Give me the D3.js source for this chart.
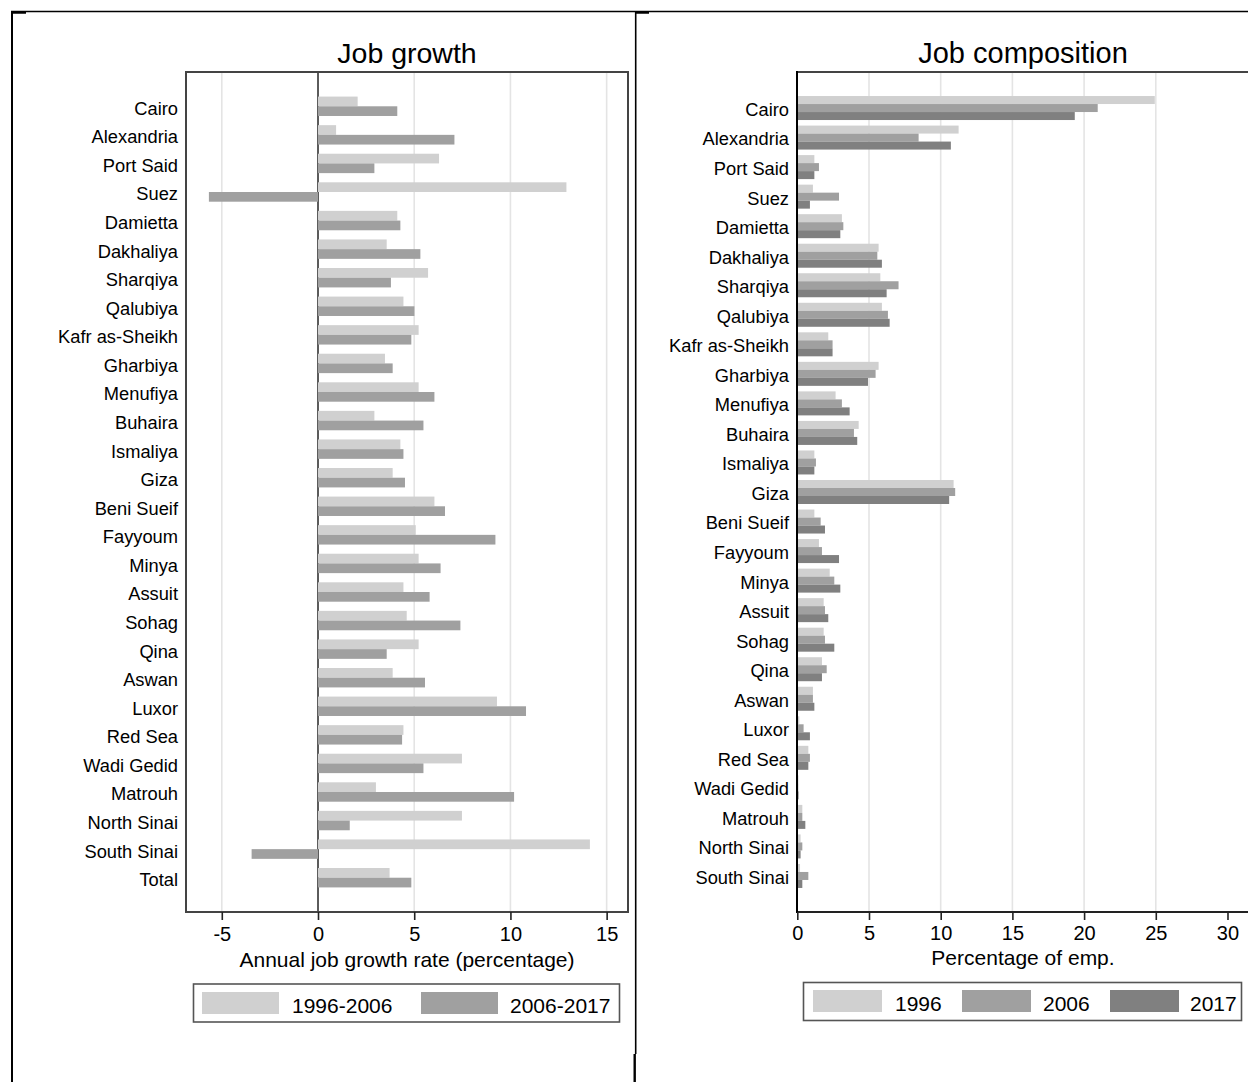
<!DOCTYPE html>
<html>
<head>
<meta charset="utf-8">
<script src="https://cdn.jsdelivr.net/npm/d3@7/dist/d3.min.js"></script>
<style>
  html, body { margin: 0; padding: 0; background: #fff; }
  svg { display: block; font-family: "Liberation Sans", Arial, Helvetica, sans-serif; }
</style>
</head>
<body>
<svg id="chart" width="1248" height="1082"></svg>
<script>
// Governorates, top to bottom
const governorates = ["Cairo","Alexandria","Port Said","Suez","Damietta","Dakhaliya","Sharqiya",
  "Qalubiya","Kafr as-Sheikh","Gharbiya","Menufiya","Buhaira","Ismaliya","Giza","Beni Sueif",
  "Fayyoum","Minya","Assuit","Sohag","Qina","Aswan","Luxor","Red Sea","Wadi Gedid","Matrouh",
  "North Sinai","South Sinai"];
const growthRows = governorates.concat(["Total"]);

// Annual job growth rate (%), by period
const growth1996_2006 = [2.06,0.94,6.29,12.91,4.12,3.57,5.72,4.44,5.23,3.48,5.23,2.93,4.28,3.88,
  6.05,5.08,5.23,4.44,4.61,5.23,3.88,9.30,4.44,7.48,3.01,7.48,14.13,3.72];
const growth2006_2017 = [4.12,7.09,2.93,-5.67,4.28,5.32,3.79,5.01,4.85,3.88,6.05,5.48,4.44,4.52,
  6.60,9.22,6.37,5.80,7.40,3.57,5.56,10.81,4.37,5.48,10.19,1.65,-3.45,4.85];

// Share of total employment (%), by year
const share1996 = [24.93,11.25,1.19,1.09,3.11,5.67,5.79,5.90,2.16,5.67,2.67,4.28,1.19,10.90,1.19,
  1.51,2.26,1.84,1.84,1.72,1.09,0.14,0.77,0.08,0.35,0.23,0.19];
const share2006 = [20.95,8.46,1.51,2.91,3.21,5.58,7.06,6.32,2.46,5.46,3.11,3.95,1.30,11.01,1.63,
  1.72,2.58,1.93,1.93,2.05,1.09,0.44,0.88,0.07,0.35,0.35,0.77];
const share2017 = [19.35,10.71,1.19,0.88,3.00,5.90,6.23,6.44,2.46,4.93,3.65,4.18,1.19,10.59,1.93,
  2.91,3.00,2.16,2.58,1.72,1.19,0.88,0.77,0.09,0.56,0.23,0.35];

const growthTicks = [-5, 0, 5, 10, 15];
const shareTicks = [0, 5, 10, 15, 20, 25, 30];
const growthLegend = ["1996-2006", "2006-2017"];
const shareLegend = ["1996", "2006", "2017"];

const cLight = "#d0d0d0", cMid = "#a0a0a0", cDark = "#808080";
const gridColor = "#e4e4e4";
const tickFmt = d => String(d); // plain hyphen for negatives

const svg = d3.select("#chart");
svg.append("rect").attr("width", 1248).attr("height", 1082).attr("fill", "#fff");

// Outer frame around the two panels
const frame = svg.append("g").attr("fill", "none").attr("stroke", "#000");
frame.append("line").attr("x1", 11).attr("x2", 1248).attr("y1", 11.5).attr("y2", 11.5).attr("stroke-width", 1.6);
frame.append("line").attr("x1", 12).attr("x2", 12).attr("y1", 11).attr("y2", 1082).attr("stroke-width", 2);
frame.append("line").attr("x1", 635.7).attr("x2", 635.7).attr("y1", 11).attr("y2", 1054).attr("stroke-width", 1.6);
frame.append("line").attr("x1", 634.7).attr("x2", 634.7).attr("y1", 1054).attr("y2", 1082).attr("stroke-width", 2.4);
frame.append("line").attr("x1", 12).attr("x2", 26).attr("y1", 12.5).attr("y2", 12.5).attr("stroke-width", 2.5);
frame.append("line").attr("x1", 636).attr("x2", 649).attr("y1", 12.5).attr("y2", 12.5).attr("stroke-width", 2.5);

const plotTop = 72, plotBottom = 912;

// ---------- Left panel: job growth ----------
const xL = d3.scaleLinear().domain([-6.86, 16.11]).range([186, 628]);
const yL = d3.scalePoint().domain(growthRows).range([plotTop, plotBottom]).padding(1.2);
const barL = 9.7;

const gL = svg.append("g");
gL.append("g").selectAll("line").data(growthTicks.filter(t => t !== 0)).join("line")
  .attr("x1", d => xL(d)).attr("x2", d => xL(d))
  .attr("y1", plotTop).attr("y2", plotBottom)
  .attr("stroke", gridColor).attr("stroke-width", 1.6);
gL.append("line").attr("x1", xL(0)).attr("x2", xL(0)).attr("y1", plotTop).attr("y2", plotBottom)
  .attr("stroke", "#333").attr("stroke-width", 1.6);

const seriesL = [
  { vals: growth1996_2006, color: cLight, k: 0 },
  { vals: growth2006_2017, color: cMid, k: 1 }
];
seriesL.forEach(s => {
  gL.append("g").selectAll("rect").data(growthRows).join("rect")
    .attr("x", (d, i) => xL(Math.min(0, s.vals[i])))
    .attr("width", (d, i) => Math.abs(xL(s.vals[i]) - xL(0)))
    .attr("y", d => yL(d) - barL + s.k * barL)
    .attr("height", barL)
    .attr("fill", s.color);
});

gL.append("rect").attr("x", 186).attr("y", plotTop).attr("width", 628 - 186).attr("height", plotBottom - plotTop)
  .attr("fill", "none").attr("stroke", "#444").attr("stroke-width", 2);

gL.append("g").selectAll("text").data(growthRows).join("text")
  .attr("x", 178).attr("y", d => yL(d) + 2).attr("dy", "0.35em")
  .attr("text-anchor", "end").attr("font-size", 18.3).attr("fill", "#000").text(d => d);

const axL = gL.append("g").attr("transform", `translate(0,${plotBottom})`)
  .call(d3.axisBottom(xL).tickValues(growthTicks).tickSize(8).tickPadding(7).tickFormat(tickFmt));
axL.select(".domain").remove();
axL.selectAll("line").attr("stroke", "#222").attr("stroke-width", 1.6);
axL.selectAll("text").attr("font-size", 20).attr("fill", "#000").attr("font-family", "Liberation Sans, Arial, sans-serif");

gL.append("text").attr("x", 407).attr("y", 63).attr("text-anchor", "middle")
  .attr("font-size", 28.5).attr("fill", "#000").text("Job growth");
gL.append("text").attr("x", 407).attr("y", 967).attr("text-anchor", "middle")
  .attr("font-size", 21).attr("fill", "#000").text("Annual job growth rate (percentage)");

// legend
const legL = gL.append("g");
legL.append("rect").attr("x", 193.5).attr("y", 984).attr("width", 426).attr("height", 38)
  .attr("fill", "#fff").attr("stroke", "#555").attr("stroke-width", 1.6);
[[202, 292], [421, 510]].forEach((p, i) => {
  legL.append("rect").attr("x", p[0]).attr("y", 992).attr("width", 77).attr("height", 22)
    .attr("fill", [cLight, cMid][i]);
  legL.append("text").attr("x", p[1]).attr("y", 1013).attr("font-size", 21).attr("fill", "#000").text(growthLegend[i]);
});

// ---------- Right panel: job composition ----------
const xR = d3.scaleLinear().domain([0, 31.5]).range([797.3, 1249]);
const yR = d3.scalePoint().domain(governorates).range([plotTop, plotBottom]).padding(1.22);
const barR = 8;

const gR = svg.append("g");
gR.append("g").selectAll("line").data(shareTicks.filter(t => t !== 0 && t !== 30)).join("line")
  .attr("x1", d => xR(d)).attr("x2", d => xR(d))
  .attr("y1", plotTop).attr("y2", plotBottom)
  .attr("stroke", gridColor).attr("stroke-width", 1.6);

const seriesR = [
  { vals: share1996, color: cLight, k: 0 },
  { vals: share2006, color: cMid, k: 1 },
  { vals: share2017, color: cDark, k: 2 }
];
seriesR.forEach(s => {
  gR.append("g").selectAll("rect").data(governorates).join("rect")
    .attr("x", xR(0))
    .attr("width", (d, i) => xR(s.vals[i]) - xR(0))
    .attr("y", d => yR(d) - 1.5 * barR + s.k * barR)
    .attr("height", barR)
    .attr("fill", s.color);
});

gR.append("line").attr("x1", 797).attr("x2", 1248).attr("y1", plotTop).attr("y2", plotTop)
  .attr("stroke", "#444").attr("stroke-width", 2);
gR.append("line").attr("x1", 797).attr("x2", 1248).attr("y1", plotBottom).attr("y2", plotBottom)
  .attr("stroke", "#222").attr("stroke-width", 2);
gR.append("line").attr("x1", 797).attr("x2", 797).attr("y1", plotTop - 1).attr("y2", plotBottom + 1)
  .attr("stroke", "#000").attr("stroke-width", 2);

gR.append("g").selectAll("text").data(governorates).join("text")
  .attr("x", 789).attr("y", d => yR(d) + 1.5).attr("dy", "0.35em")
  .attr("text-anchor", "end").attr("font-size", 18.3).attr("fill", "#000").text(d => d);

const axR = gR.append("g").attr("transform", `translate(0,${plotBottom})`)
  .call(d3.axisBottom(xR).tickValues(shareTicks).tickSize(8).tickPadding(6).tickFormat(tickFmt));
axR.select(".domain").remove();
axR.selectAll("line").attr("stroke", "#222").attr("stroke-width", 1.6);
axR.selectAll("text").attr("font-size", 20).attr("fill", "#000").attr("font-family", "Liberation Sans, Arial, sans-serif");

gR.append("text").attr("x", 1023).attr("y", 63).attr("text-anchor", "middle")
  .attr("font-size", 29).attr("fill", "#000").text("Job composition");
gR.append("text").attr("x", 1023).attr("y", 965).attr("text-anchor", "middle")
  .attr("font-size", 21).attr("fill", "#000").text("Percentage of emp.");

const legR = gR.append("g");
legR.append("rect").attr("x", 803.5).attr("y", 982.5).attr("width", 438).attr("height", 38)
  .attr("fill", "#fff").attr("stroke", "#555").attr("stroke-width", 1.6);
[[813, 895], [962, 1043], [1110, 1190]].forEach((p, i) => {
  legR.append("rect").attr("x", p[0]).attr("y", 990).attr("width", 69).attr("height", 22)
    .attr("fill", [cLight, cMid, cDark][i]);
  legR.append("text").attr("x", p[1]).attr("y", 1011).attr("font-size", 21).attr("fill", "#000").text(shareLegend[i]);
});
</script>
</body>
</html>
